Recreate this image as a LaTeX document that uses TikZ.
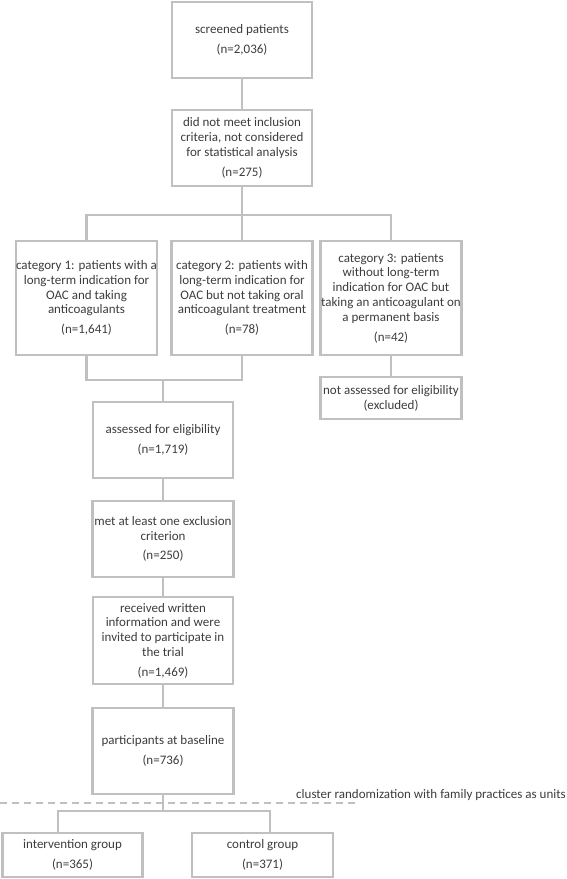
\documentclass[tikz,border=0pt]{standalone}
\usepackage{fontspec}
\setmainfont{Carlito}
\usepackage{tikz}
\usetikzlibrary{positioning,calc}

\definecolor{boxgray}{RGB}{192,192,192}
\definecolor{txtgray}{RGB}{60,60,60}

\tikzset{
  flowbox/.style={draw=boxgray, line width=2.3pt, rectangle, align=center,
    inner sep=0pt, text=txtgray, font=\fontsize{13}{14.8}\selectfont},
  link/.style={draw=boxgray, line width=2.3pt},
  dashline/.style={draw=boxgray, line width=1.6pt, dash pattern=on 7pt off 5pt}
}

\begin{document}
\begin{tikzpicture}[x=1pt,y=-1pt]
\useasboundingbox (0,0) rectangle (567,879);

\node[flowbox, minimum width=140, minimum height=76] (screen) at (242,40)
  {screened patients\\[5pt](n=2,036)};
\node[flowbox, minimum width=140, minimum height=76] (nomeet) at (242,148)
  {did not meet inclusion\\criteria, not considered\\for statistical analysis\\[5pt](n=275)};

\node[flowbox, minimum width=141, minimum height=114] (cat1) at (86.5,298)
  {category 1: patients with a\\long-term indication for\\OAC and taking\\anticoagulants\\[5pt](n=1,641)};
\node[flowbox, minimum width=141, minimum height=114] (cat2) at (242,298)
  {category 2: patients with\\long-term indication for\\OAC but not taking oral\\anticoagulant treatment\\[5pt](n=78)};
\node[flowbox, minimum width=141, minimum height=114] (cat3) at (391,298)
  {category 3: patients\\without long-term\\indication for OAC but\\taking an anticoagulant on\\a permanent basis\\[5pt](n=42)};
\node[flowbox, minimum width=141, minimum height=42] (notass) at (391,398)
  {not assessed for eligibility\\(excluded)};

\node[flowbox, minimum width=140, minimum height=76] (assess) at (163,440)
  {assessed for eligibility\\[5pt](n=1,719)};
\node[flowbox, minimum width=141, minimum height=76] (met) at (163,539)
  {met at least one exclusion\\criterion\\[5pt](n=250)};
\node[flowbox, minimum width=140, minimum height=87] (recv) at (163,640.5)
  {received written\\information and were\\invited to participate in\\the trial\\[5pt](n=1,469)};
\node[flowbox, minimum width=141, minimum height=86] (base) at (163,751)
  {participants at baseline\\[5pt](n=736)};

\node[flowbox, minimum width=140, minimum height=44] (interv) at (72.5,855)
  {intervention group\\[5pt](n=365)};
\node[flowbox, minimum width=141, minimum height=44] (ctrl) at (262.5,855)
  {control group\\[5pt](n=371)};

\coordinate (split1) at (242,215);
\coordinate (merge) at (163,380);
\coordinate (split2) at (163,811);

\draw[link] (screen) -- (nomeet);
\draw[link] (nomeet) -- (split1);
\draw[link] (cat1.north) |- (split1) -| (cat3.north);
\draw[link] (split1) -- (cat2.north);
\draw[link] (cat1.south) |- (cat2.south |- merge) -- (cat2.south);
\draw[link] (merge) -- (assess);
\draw[link] (cat3) -- (notass);
\draw[link] (assess) -- (met);
\draw[link] (met) -- (recv);
\draw[link] (recv) -- (base);

% randomization
\draw[dashline] (0,803) -- (357,803);
\node[anchor=base east, inner sep=0pt, text=txtgray, font=\fontsize{13}{14.8}\selectfont] (rand) at (566,798)
  {cluster randomization with family practices as units};
\draw[link] (base) -- (split2);
\draw[link] ([xshift=-14.5pt]interv.north) |- (split2) -| ([xshift=7.5pt]ctrl.north);
\end{tikzpicture}
\end{document}
